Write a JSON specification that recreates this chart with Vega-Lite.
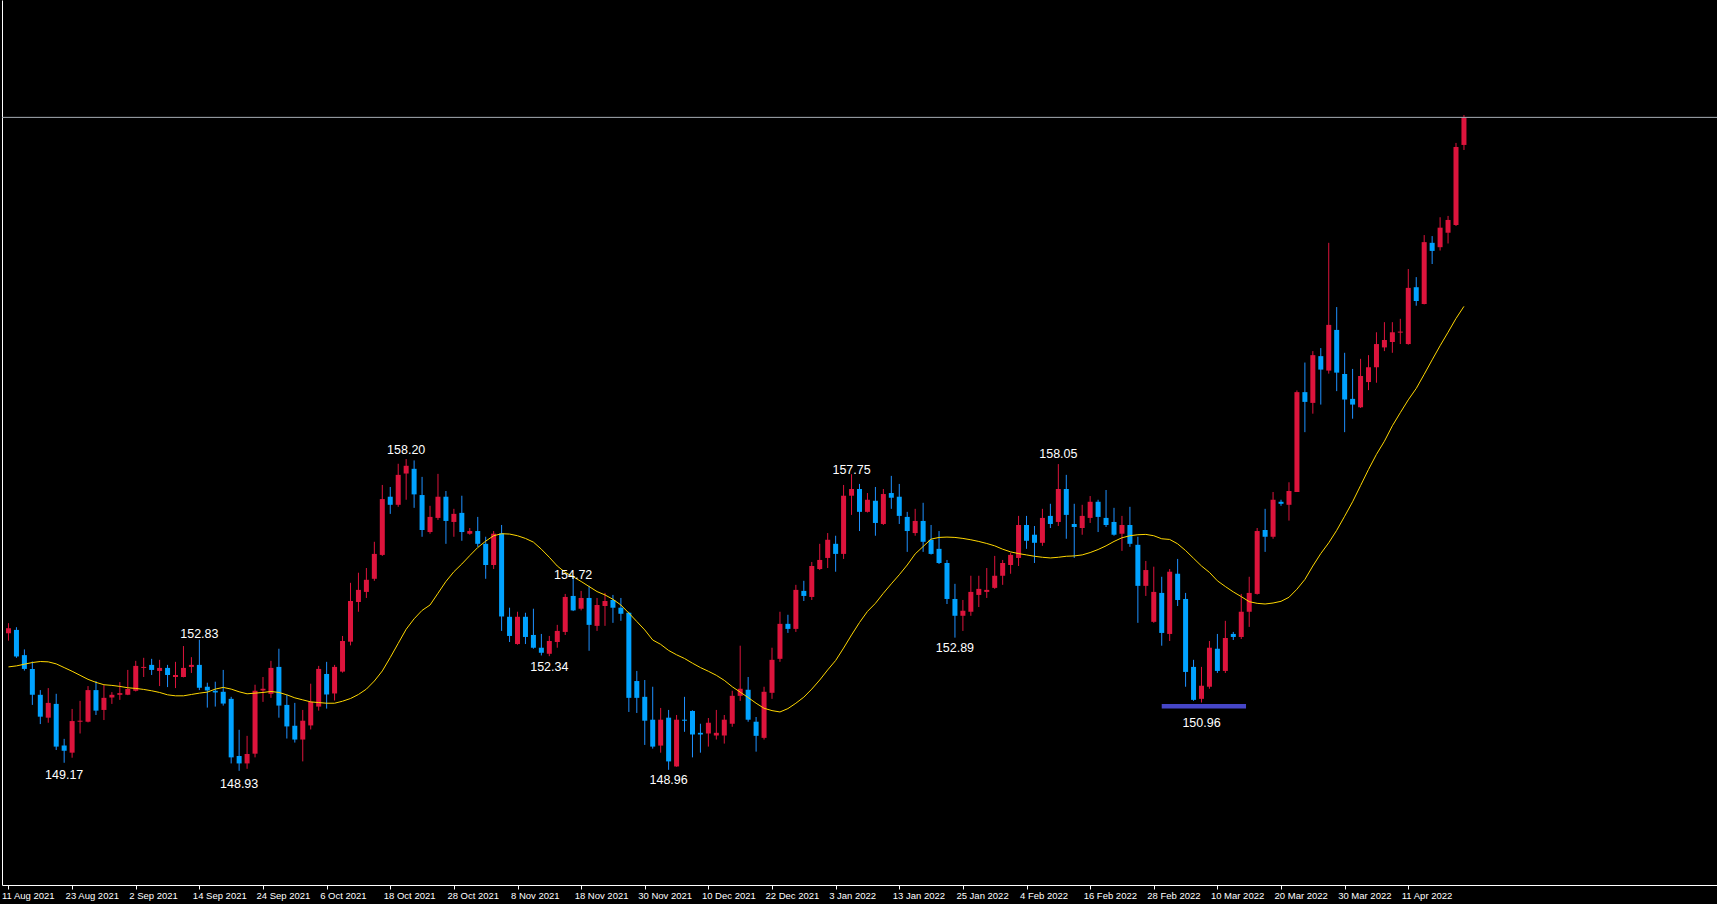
{
"$schema": "https://vega.github.io/schema/vega-lite/v6.json",
"width": 1715, "height": 885,
"autosize": {"type": "none"},
"padding": {"left": 2, "top": 0, "right": 0, "bottom": 19},
"background": "#000000",
"config": {"view": {"stroke": null}, "axis": {"grid": false}},
"datasets": {
"bars": [
{"i":0,"o":153.02,"h":153.32,"l":152.80,"c":153.17,"m":152.02},
{"i":1,"o":153.12,"h":153.20,"l":152.29,"c":152.33,"m":152.05},
{"i":2,"o":152.37,"h":152.54,"l":151.91,"c":151.96,"m":152.10},
{"i":3,"o":151.96,"h":152.18,"l":150.89,"c":151.19,"m":152.15},
{"i":4,"o":151.19,"h":151.33,"l":150.32,"c":150.54,"m":152.18},
{"i":5,"o":150.51,"h":151.39,"l":150.36,"c":150.95,"m":152.17},
{"i":6,"o":150.92,"h":151.22,"l":149.55,"c":149.65,"m":152.11},
{"i":7,"o":149.68,"h":149.88,"l":149.17,"c":149.53,"m":152.00},
{"i":8,"o":149.47,"h":150.77,"l":149.32,"c":150.41,"m":151.89},
{"i":9,"o":150.39,"h":151.01,"l":150.04,"c":150.42,"m":151.77},
{"i":10,"o":150.39,"h":151.45,"l":150.37,"c":151.33,"m":151.65},
{"i":11,"o":151.33,"h":151.60,"l":150.59,"c":150.72,"m":151.56},
{"i":12,"o":150.74,"h":151.48,"l":150.44,"c":151.10,"m":151.49},
{"i":13,"o":151.11,"h":151.27,"l":150.92,"c":151.19,"m":151.47},
{"i":14,"o":151.19,"h":151.57,"l":151.04,"c":151.24,"m":151.44},
{"i":15,"o":151.19,"h":151.93,"l":151.18,"c":151.36,"m":151.40},
{"i":16,"o":151.31,"h":152.20,"l":151.29,"c":152.05,"m":151.38},
{"i":17,"o":151.99,"h":152.29,"l":151.72,"c":152.02,"m":151.35},
{"i":18,"o":152.08,"h":152.26,"l":151.78,"c":151.93,"m":151.31},
{"i":19,"o":151.90,"h":152.23,"l":151.45,"c":151.99,"m":151.26},
{"i":20,"o":151.99,"h":152.08,"l":151.42,"c":151.78,"m":151.19},
{"i":21,"o":151.72,"h":152.17,"l":151.39,"c":151.78,"m":151.16},
{"i":22,"o":151.72,"h":152.64,"l":151.71,"c":151.99,"m":151.16},
{"i":23,"o":152.02,"h":152.31,"l":151.84,"c":152.08,"m":151.20},
{"i":24,"o":152.08,"h":152.83,"l":151.33,"c":151.40,"m":151.24},
{"i":25,"o":151.43,"h":151.55,"l":150.81,"c":151.32,"m":151.27},
{"i":26,"o":151.31,"h":151.58,"l":150.84,"c":151.26,"m":151.36},
{"i":27,"o":151.28,"h":151.93,"l":150.87,"c":150.93,"m":151.41},
{"i":28,"o":151.07,"h":151.13,"l":149.15,"c":149.33,"m":151.36},
{"i":29,"o":149.37,"h":150.15,"l":148.93,"c":149.15,"m":151.28},
{"i":30,"o":149.15,"h":149.97,"l":148.99,"c":149.43,"m":151.22},
{"i":31,"o":149.44,"h":151.49,"l":149.33,"c":151.31,"m":151.24},
{"i":32,"o":151.32,"h":151.72,"l":150.98,"c":151.37,"m":151.26},
{"i":33,"o":151.22,"h":152.20,"l":151.10,"c":151.99,"m":151.29},
{"i":34,"o":152.02,"h":152.56,"l":150.51,"c":150.87,"m":151.26},
{"i":35,"o":150.89,"h":151.19,"l":149.89,"c":150.25,"m":151.19},
{"i":36,"o":150.27,"h":150.95,"l":149.77,"c":149.86,"m":151.10},
{"i":37,"o":149.86,"h":150.74,"l":149.21,"c":150.42,"m":151.04},
{"i":38,"o":150.28,"h":151.52,"l":150.16,"c":150.98,"m":150.98},
{"i":39,"o":150.84,"h":152.05,"l":150.72,"c":151.96,"m":150.96},
{"i":40,"o":151.81,"h":152.17,"l":150.78,"c":151.20,"m":150.94},
{"i":41,"o":151.23,"h":152.08,"l":151.02,"c":152.02,"m":150.94},
{"i":42,"o":151.88,"h":152.94,"l":151.85,"c":152.79,"m":151.00},
{"i":43,"o":152.77,"h":154.52,"l":152.66,"c":153.98,"m":151.08},
{"i":44,"o":153.95,"h":154.82,"l":153.66,"c":154.31,"m":151.20},
{"i":45,"o":154.25,"h":154.96,"l":154.07,"c":154.61,"m":151.36},
{"i":46,"o":154.64,"h":155.74,"l":154.58,"c":155.38,"m":151.60},
{"i":47,"o":155.35,"h":157.43,"l":155.32,"c":157.01,"m":151.90},
{"i":48,"o":157.08,"h":157.37,"l":156.57,"c":156.84,"m":152.30},
{"i":49,"o":156.84,"h":158.06,"l":156.78,"c":157.73,"m":152.72},
{"i":50,"o":157.77,"h":158.20,"l":156.99,"c":158.00,"m":153.14},
{"i":51,"o":157.91,"h":158.16,"l":156.75,"c":157.15,"m":153.45},
{"i":52,"o":157.13,"h":157.67,"l":155.89,"c":156.09,"m":153.70},
{"i":53,"o":156.03,"h":156.81,"l":155.98,"c":156.48,"m":153.86},
{"i":54,"o":156.45,"h":157.76,"l":156.39,"c":157.08,"m":154.21},
{"i":55,"o":157.08,"h":157.25,"l":155.68,"c":156.36,"m":154.56},
{"i":56,"o":156.33,"h":156.72,"l":155.89,"c":156.57,"m":154.85},
{"i":57,"o":156.60,"h":157.11,"l":155.77,"c":156.03,"m":155.08},
{"i":58,"o":155.98,"h":156.15,"l":155.95,"c":156.06,"m":155.33},
{"i":59,"o":156.06,"h":156.48,"l":155.59,"c":155.68,"m":155.57},
{"i":60,"o":155.68,"h":155.89,"l":154.64,"c":155.05,"m":155.76},
{"i":61,"o":155.05,"h":156.06,"l":154.93,"c":155.98,"m":155.92},
{"i":62,"o":155.99,"h":156.24,"l":153.09,"c":153.52,"m":155.98},
{"i":63,"o":153.51,"h":153.78,"l":152.76,"c":152.94,"m":155.97},
{"i":64,"o":152.70,"h":153.66,"l":152.68,"c":153.51,"m":155.92},
{"i":65,"o":153.51,"h":153.63,"l":152.70,"c":152.91,"m":155.84},
{"i":66,"o":152.97,"h":153.75,"l":152.56,"c":152.59,"m":155.73},
{"i":67,"o":152.59,"h":153.00,"l":152.36,"c":152.44,"m":155.52},
{"i":68,"o":152.41,"h":152.94,"l":152.34,"c":152.79,"m":155.28},
{"i":69,"o":152.76,"h":153.27,"l":152.59,"c":153.09,"m":155.02},
{"i":70,"o":153.06,"h":154.19,"l":152.97,"c":154.10,"m":154.83},
{"i":71,"o":154.13,"h":154.72,"l":153.68,"c":153.70,"m":154.70},
{"i":72,"o":153.75,"h":154.28,"l":153.70,"c":154.07,"m":154.56},
{"i":73,"o":154.07,"h":154.43,"l":152.50,"c":153.27,"m":154.41},
{"i":74,"o":153.24,"h":154.07,"l":153.09,"c":153.86,"m":154.26},
{"i":75,"o":153.83,"h":154.22,"l":153.24,"c":153.98,"m":154.16},
{"i":76,"o":154.01,"h":154.16,"l":153.33,"c":153.78,"m":154.03},
{"i":77,"o":153.78,"h":154.07,"l":153.39,"c":153.60,"m":153.86},
{"i":78,"o":153.63,"h":153.66,"l":150.68,"c":151.10,"m":153.62},
{"i":79,"o":151.60,"h":151.90,"l":150.65,"c":151.10,"m":153.37},
{"i":80,"o":151.13,"h":151.63,"l":149.70,"c":150.42,"m":153.12},
{"i":81,"o":150.45,"h":151.43,"l":149.59,"c":149.65,"m":152.82},
{"i":82,"o":149.68,"h":150.80,"l":149.47,"c":150.45,"m":152.69},
{"i":83,"o":150.51,"h":150.74,"l":148.96,"c":149.21,"m":152.51},
{"i":84,"o":149.06,"h":150.59,"l":149.05,"c":150.45,"m":152.38},
{"i":85,"o":150.45,"h":151.13,"l":150.09,"c":150.42,"m":152.27},
{"i":86,"o":150.71,"h":150.73,"l":149.33,"c":150.01,"m":152.13},
{"i":87,"o":150.06,"h":150.33,"l":149.47,"c":150.01,"m":152.00},
{"i":88,"o":150.04,"h":150.50,"l":149.65,"c":150.36,"m":151.89},
{"i":89,"o":149.98,"h":150.74,"l":149.86,"c":150.06,"m":151.77},
{"i":90,"o":149.98,"h":150.59,"l":149.74,"c":150.45,"m":151.62},
{"i":91,"o":150.33,"h":151.31,"l":150.24,"c":151.16,"m":151.43},
{"i":92,"o":151.16,"h":152.65,"l":151.01,"c":151.37,"m":151.27},
{"i":93,"o":151.34,"h":151.72,"l":150.39,"c":150.45,"m":151.11},
{"i":94,"o":150.39,"h":150.53,"l":149.50,"c":149.97,"m":150.94},
{"i":95,"o":149.91,"h":151.43,"l":149.86,"c":151.28,"m":150.79},
{"i":96,"o":151.25,"h":152.59,"l":151.07,"c":152.23,"m":150.72},
{"i":97,"o":152.26,"h":153.66,"l":152.17,"c":153.30,"m":150.68},
{"i":98,"o":153.30,"h":153.57,"l":153.03,"c":153.15,"m":150.78},
{"i":99,"o":153.15,"h":154.46,"l":153.06,"c":154.31,"m":150.94},
{"i":100,"o":154.28,"h":154.58,"l":153.98,"c":154.13,"m":151.12},
{"i":101,"o":154.10,"h":155.14,"l":154.01,"c":155.02,"m":151.36},
{"i":102,"o":154.93,"h":155.68,"l":154.90,"c":155.20,"m":151.63},
{"i":103,"o":155.26,"h":156.00,"l":154.96,"c":155.80,"m":151.93},
{"i":104,"o":155.68,"h":155.92,"l":154.85,"c":155.38,"m":152.21},
{"i":105,"o":155.38,"h":157.43,"l":155.23,"c":157.11,"m":152.58},
{"i":106,"o":157.11,"h":157.75,"l":156.54,"c":157.31,"m":152.97},
{"i":107,"o":157.31,"h":157.46,"l":156.06,"c":156.63,"m":153.34},
{"i":108,"o":156.63,"h":157.19,"l":156.61,"c":156.99,"m":153.67},
{"i":109,"o":156.96,"h":157.37,"l":155.92,"c":156.30,"m":153.91},
{"i":110,"o":156.27,"h":157.31,"l":156.24,"c":157.16,"m":154.21},
{"i":111,"o":157.19,"h":157.70,"l":156.72,"c":157.05,"m":154.49},
{"i":112,"o":157.08,"h":157.46,"l":156.27,"c":156.51,"m":154.76},
{"i":113,"o":156.48,"h":156.63,"l":155.44,"c":156.06,"m":155.05},
{"i":114,"o":156.00,"h":156.72,"l":155.92,"c":156.36,"m":155.38},
{"i":115,"o":156.36,"h":156.90,"l":155.44,"c":155.74,"m":155.60},
{"i":116,"o":155.80,"h":156.24,"l":155.36,"c":155.38,"m":155.82},
{"i":117,"o":155.53,"h":156.06,"l":155.08,"c":155.11,"m":155.87},
{"i":118,"o":155.11,"h":155.20,"l":153.89,"c":154.04,"m":155.88},
{"i":119,"o":154.04,"h":154.49,"l":152.89,"c":153.54,"m":155.87},
{"i":120,"o":153.54,"h":154.01,"l":153.09,"c":153.69,"m":155.84},
{"i":121,"o":153.66,"h":154.73,"l":153.54,"c":154.25,"m":155.80},
{"i":122,"o":154.16,"h":154.73,"l":153.80,"c":154.34,"m":155.75},
{"i":123,"o":154.25,"h":154.96,"l":154.07,"c":154.31,"m":155.69},
{"i":124,"o":154.37,"h":155.32,"l":154.34,"c":154.73,"m":155.62},
{"i":125,"o":154.73,"h":155.20,"l":154.46,"c":155.11,"m":155.52},
{"i":126,"o":155.05,"h":155.41,"l":154.79,"c":155.35,"m":155.44},
{"i":127,"o":155.26,"h":156.51,"l":155.02,"c":156.24,"m":155.39},
{"i":128,"o":156.24,"h":156.51,"l":155.53,"c":155.77,"m":155.35},
{"i":129,"o":155.95,"h":156.21,"l":155.11,"c":155.71,"m":155.31},
{"i":130,"o":155.71,"h":156.72,"l":155.62,"c":156.45,"m":155.28},
{"i":131,"o":156.51,"h":156.87,"l":156.15,"c":156.27,"m":155.26},
{"i":132,"o":156.33,"h":158.05,"l":156.21,"c":157.31,"m":155.28},
{"i":133,"o":157.31,"h":157.73,"l":155.83,"c":156.54,"m":155.31},
{"i":134,"o":156.27,"h":156.87,"l":155.26,"c":156.18,"m":155.32},
{"i":135,"o":156.15,"h":156.84,"l":155.95,"c":156.51,"m":155.35},
{"i":136,"o":156.45,"h":157.10,"l":156.30,"c":156.93,"m":155.42},
{"i":137,"o":156.93,"h":156.99,"l":156.03,"c":156.48,"m":155.51},
{"i":138,"o":156.45,"h":157.28,"l":156.18,"c":156.24,"m":155.62},
{"i":139,"o":156.33,"h":156.75,"l":155.92,"c":155.95,"m":155.75},
{"i":140,"o":155.98,"h":156.51,"l":155.47,"c":156.24,"m":155.86},
{"i":141,"o":156.24,"h":156.78,"l":155.59,"c":155.68,"m":155.92},
{"i":142,"o":155.65,"h":155.89,"l":153.33,"c":154.43,"m":155.95},
{"i":143,"o":154.43,"h":155.17,"l":154.13,"c":154.90,"m":155.96},
{"i":144,"o":153.36,"h":155.00,"l":153.33,"c":154.25,"m":155.92},
{"i":145,"o":154.22,"h":154.70,"l":152.65,"c":153.03,"m":155.83},
{"i":146,"o":153.00,"h":154.93,"l":152.79,"c":154.85,"m":155.81},
{"i":147,"o":154.79,"h":155.23,"l":153.83,"c":154.01,"m":155.68},
{"i":148,"o":154.04,"h":154.22,"l":151.43,"c":151.87,"m":155.48},
{"i":149,"o":152.02,"h":152.23,"l":151.01,"c":151.04,"m":155.25},
{"i":150,"o":151.07,"h":152.02,"l":150.96,"c":151.46,"m":155.02},
{"i":151,"o":151.43,"h":152.79,"l":151.37,"c":152.59,"m":154.83},
{"i":152,"o":152.56,"h":153.00,"l":151.84,"c":151.90,"m":154.58},
{"i":153,"o":151.90,"h":153.39,"l":151.84,"c":152.88,"m":154.41},
{"i":154,"o":153.00,"h":153.06,"l":152.82,"c":152.91,"m":154.25},
{"i":155,"o":152.91,"h":154.19,"l":152.85,"c":153.66,"m":154.11},
{"i":156,"o":153.66,"h":154.70,"l":153.21,"c":154.22,"m":153.96},
{"i":157,"o":154.19,"h":156.15,"l":154.17,"c":156.06,"m":153.91},
{"i":158,"o":156.09,"h":156.72,"l":155.44,"c":155.89,"m":153.89},
{"i":159,"o":155.89,"h":157.22,"l":155.83,"c":156.99,"m":153.92},
{"i":160,"o":156.93,"h":156.99,"l":156.81,"c":156.87,"m":153.97},
{"i":161,"o":156.84,"h":157.51,"l":156.37,"c":157.25,"m":154.09},
{"i":162,"o":157.22,"h":160.24,"l":157.22,"c":160.19,"m":154.33},
{"i":163,"o":160.19,"h":161.07,"l":159.00,"c":159.90,"m":154.62},
{"i":164,"o":159.87,"h":161.41,"l":159.55,"c":161.29,"m":155.02},
{"i":165,"o":161.26,"h":161.50,"l":159.82,"c":160.86,"m":155.39},
{"i":166,"o":160.83,"h":164.63,"l":160.74,"c":162.19,"m":155.71},
{"i":167,"o":162.04,"h":162.72,"l":160.22,"c":160.77,"m":156.08},
{"i":168,"o":160.73,"h":161.36,"l":159.00,"c":159.97,"m":156.50},
{"i":169,"o":159.99,"h":160.88,"l":159.40,"c":159.82,"m":156.93},
{"i":170,"o":159.74,"h":161.18,"l":159.72,"c":160.67,"m":157.41},
{"i":171,"o":160.49,"h":161.29,"l":160.25,"c":160.93,"m":157.89},
{"i":172,"o":160.93,"h":161.97,"l":160.47,"c":161.62,"m":158.34},
{"i":173,"o":161.52,"h":162.27,"l":161.41,"c":161.74,"m":158.73},
{"i":174,"o":161.68,"h":162.27,"l":161.36,"c":161.97,"m":159.19},
{"i":175,"o":161.96,"h":162.37,"l":161.62,"c":161.99,"m":159.58},
{"i":176,"o":161.62,"h":163.85,"l":161.60,"c":163.29,"m":159.96},
{"i":177,"o":163.31,"h":163.61,"l":162.76,"c":162.90,"m":160.30},
{"i":178,"o":162.81,"h":164.86,"l":162.80,"c":164.65,"m":160.72},
{"i":179,"o":164.63,"h":164.83,"l":164.00,"c":164.39,"m":161.15},
{"i":180,"o":164.50,"h":165.39,"l":164.40,"c":165.08,"m":161.57},
{"i":181,"o":164.93,"h":165.43,"l":164.61,"c":165.31,"m":161.97},
{"i":182,"o":165.16,"h":167.60,"l":165.13,"c":167.48,"m":162.38},
{"i":183,"o":167.54,"h":168.43,"l":167.39,"c":168.36,"m":162.74}
],
"labels": [
{"i":7,"ly":148.80,"t":"149.17"},
{"i":24,"ly":152.99,"t":"152.83"},
{"i":29,"ly":148.53,"t":"148.93"},
{"i":50,"ly":158.47,"t":"158.20"},
{"i":68,"ly":152.02,"t":"152.34"},
{"i":71,"ly":154.75,"t":"154.72"},
{"i":83,"ly":148.67,"t":"148.96"},
{"i":106,"ly":157.88,"t":"157.75"},
{"i":119,"ly":152.57,"t":"152.89"},
{"i":132,"ly":158.34,"t":"158.05"},
{"i":150,"ly":150.36,"t":"150.96"}
],
"bid": [{"p":168.36}],
"support": [{"x1":145.0,"x2":155.6,"p":150.85}]
},
"layer": [
{
"data": {"name": "bars"},
"mark": {"type": "rule", "strokeWidth": 1, "clip": true},
"encoding": {
"x": {"field": "i", "type": "quantitative", "scale": {"domain": [-0.1875, 214.1875], "nice": false, "zero": false},
"axis": {"orient": "bottom", "title": null, "grid": false,
"values": [0,8,16,24,32,40,48,56,64,72,80,88,96,104,112,120,128,136,144,152,160,168,176],
"labelExpr": "['11 Aug 2021','23 Aug 2021','2 Sep 2021','14 Sep 2021','24 Sep 2021','6 Oct 2021','18 Oct 2021','28 Oct 2021','8 Nov 2021','18 Nov 2021','30 Nov 2021','10 Dec 2021','22 Dec 2021','3 Jan 2022','13 Jan 2022','25 Jan 2022','4 Feb 2022','16 Feb 2022','28 Feb 2022','10 Mar 2022','20 Mar 2022','30 Mar 2022','11 Apr 2022'][round(datum.value/8)]",
"domainColor": "#ffffff", "domainWidth": 1, "tickColor": "#ffffff", "tickSize": 4, "tickWidth": 1,
"labelColor": "#ffffff", "labelFont": "Liberation Sans", "labelFontSize": 9.5, "labelAlign": "left", "labelBaseline": "top", "labelPadding": 1, "labelOffset": -7,
"labelOverlap": false, "labelFlush": false, "labelBound": false}},
"y": {"field": "l", "type": "quantitative", "scale": {"domain": [145.535, 171.85], "nice": false, "zero": false},
"axis": {"orient": "left", "title": null, "labels": false, "ticks": false, "grid": false, "domainColor": "#ffffff", "domainWidth": 1}},
"y2": {"field": "h"},
"color": {"condition": {"test": "datum.c > datum.o", "value": "#dc143c"}, "value": "#1e90ff"}
}
},
{
"data": {"name": "bars"},
"mark": {"type": "bar", "size": 5, "clip": true},
"encoding": {
"x": {"field": "i", "type": "quantitative"},
"y": {"field": "o", "type": "quantitative"},
"y2": {"field": "c"},
"color": {"condition": {"test": "datum.c > datum.o", "value": "#dc143c"}, "value": "#00a2ff"}
}
},
{
"data": {"name": "bars"},
"mark": {"type": "line", "color": "#ffd700", "strokeWidth": 1, "clip": true},
"encoding": {
"x": {"field": "i", "type": "quantitative"},
"y": {"field": "m", "type": "quantitative"}
}
},
{
"data": {"name": "bid"},
"mark": {"type": "rule", "color": "#a7aeb5", "strokeWidth": 1},
"encoding": {"y": {"field": "p", "type": "quantitative"}}
},
{
"data": {"name": "support"},
"mark": {"type": "rule", "color": "#4646c8", "strokeWidth": 4.5, "strokeCap": "butt"},
"encoding": {
"x": {"field": "x1", "type": "quantitative"},
"x2": {"field": "x2"},
"y": {"field": "p", "type": "quantitative"}
}
},
{
"data": {"name": "labels"},
"mark": {"type": "text", "color": "#ffffff", "font": "Liberation Sans", "fontSize": 12.5, "align": "center", "baseline": "middle"},
"encoding": {
"x": {"field": "i", "type": "quantitative"},
"y": {"field": "ly", "type": "quantitative"},
"text": {"field": "t"}
}
}
]
}
